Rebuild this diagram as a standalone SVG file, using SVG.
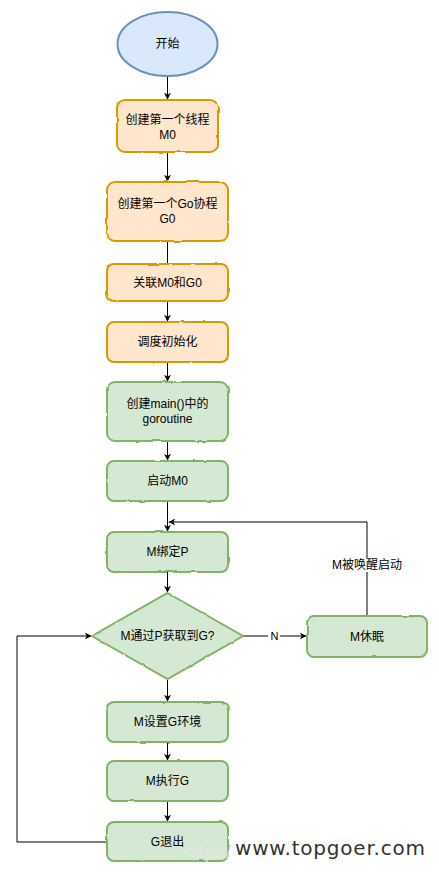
<svg xmlns="http://www.w3.org/2000/svg" width="439" height="872" viewBox="0 0 439 872">
<defs>
<filter id="rough" x="-5%" y="-5%" width="110%" height="110%">
<feTurbulence type="fractalNoise" baseFrequency="0.08" numOctaves="2" seed="3" result="n"/>
<feDisplacementMap in="SourceGraphic" in2="n" scale="2.2" xChannelSelector="R" yChannelSelector="G"/>
</filter>
<marker id="arr" viewBox="0 0 10 10" refX="9" refY="5" markerWidth="7" markerHeight="7" orient="auto" markerUnits="userSpaceOnUse">
<path d="M0,0 L10,5 L0,10 L3,5 Z" fill="#000"/>
</marker>
</defs>
<style>
.t{font-family:"Liberation Sans","Noto Sans CJK SC",sans-serif;font-size:12px;fill:#000;text-anchor:middle}
.blue{fill:#dae8fc;stroke:#6c8ebf;stroke-width:2}
.orange{fill:#ffe6cc;stroke:#d79b00;stroke-width:2}
.green{fill:#d5e8d4;stroke:#82b366;stroke-width:2}
.c{fill:none;stroke:#000;stroke-width:1}
</style>
<rect width="439" height="872" fill="#fff"/>
<g id="connectors">
<path class="c" d="M167.5,76 L167.5,99" marker-end="url(#arr)"/>
<path class="c" d="M167.5,152 L167.5,181" marker-end="url(#arr)"/>
<path class="c" d="M167.5,241 L167.5,264"/>
<path class="c" d="M167.5,301 L167.5,321" marker-end="url(#arr)"/>
<path class="c" d="M167.5,362 L167.5,381" marker-end="url(#arr)"/>
<path class="c" d="M167.5,441 L167.5,460" marker-end="url(#arr)"/>
<path class="c" d="M167.5,501 L167.5,531" marker-end="url(#arr)"/>
<path class="c" d="M167.5,572 L167.5,592" marker-end="url(#arr)"/>
<path class="c" d="M167.5,679 L167.5,701" marker-end="url(#arr)"/>
<path class="c" d="M167.5,742 L167.5,760" marker-end="url(#arr)"/>
<path class="c" d="M167.5,801 L167.5,821" marker-end="url(#arr)"/>
<path class="c" d="M243,636 L306,636" marker-end="url(#arr)"/>
<path class="c" d="M367,615 L367,522 L169,522" marker-end="url(#arr)"/>
<path class="c" d="M107,842 L17,842 L17,636 L91,636" marker-end="url(#arr)"/>
<rect x="268" y="629" width="12" height="14" fill="#fff"/>
<text class="t" x="274.5" y="640" font-size="11" style="font-size:11px">N</text>
<rect x="330" y="558" width="74" height="14" fill="#fff"/>
<text class="t" x="367" y="569">M被唤醒启动</text>
</g>
<g id="start">
<ellipse class="blue" cx="167.5" cy="44" rx="50" ry="32"/>
<text class="t" x="167.5" y="48">开始</text>
</g>
<g id="create-m0">
<rect class="orange" x="117" y="100" width="101" height="52" rx="8" filter="url(#rough)"/>
<text class="t" x="167.5" y="124">创建第一个线程</text>
<text class="t" x="167.5" y="139">M0</text>
</g>
<g id="create-g0">
<rect class="orange" x="107" y="182" width="121" height="59" rx="8" filter="url(#rough)"/>
<text class="t" x="167.5" y="208">创建第一个Go协程</text>
<text class="t" x="167.5" y="223">G0</text>
</g>
<g id="link">
<rect class="orange" x="107" y="264" width="121" height="37" rx="7" filter="url(#rough)"/>
<text class="t" x="167.5" y="287">关联M0和G0</text>
</g>
<g id="sched-init">
<rect class="orange" x="107" y="322" width="121" height="40" rx="7" filter="url(#rough)"/>
<text class="t" x="167.5" y="346">调度初始化</text>
</g>
<g id="create-main">
<rect class="green" x="107" y="382" width="121" height="59" rx="8" filter="url(#rough)"/>
<text class="t" x="167.5" y="408">创建main()中的</text>
<text class="t" x="167.5" y="423">goroutine</text>
</g>
<g id="start-m0">
<rect class="green" x="107" y="461" width="121" height="40" rx="7" filter="url(#rough)"/>
<text class="t" x="167.5" y="485">启动M0</text>
</g>
<g id="bind-p">
<rect class="green" x="107" y="532" width="121" height="40" rx="7" filter="url(#rough)"/>
<text class="t" x="167.5" y="556">M绑定P</text>
</g>
<g id="decision">
<path class="green" d="M167.5,593 L243,636 L167.5,679 L92,636 Z" filter="url(#rough)"/>
<text class="t" x="167.5" y="640">M通过P获取到G?</text>
</g>
<g id="sleep">
<rect class="green" x="307" y="616" width="120" height="41" rx="7" filter="url(#rough)"/>
<text class="t" x="367" y="641">M休眠</text>
</g>
<g id="set-env">
<rect class="green" x="107" y="702" width="121" height="40" rx="7" filter="url(#rough)"/>
<text class="t" x="167.5" y="726">M设置G环境</text>
</g>
<g id="exec-g">
<rect class="green" x="107" y="761" width="121" height="40" rx="7" filter="url(#rough)"/>
<text class="t" x="167.5" y="785">M执行G</text>
</g>
<g id="g-exit">
<rect class="green" x="107" y="822" width="121" height="39" rx="7" filter="url(#rough)"/>
<text class="t" x="167.5" y="846">G退出</text>
</g>
<g id="watermark">
<text x="185" y="858" font-family="DejaVu Sans, sans-serif" font-size="17" fill="#e6e6e6" textLength="46" lengthAdjust="spacingAndGlyphs">https:/</text>
<text x="235" y="855" font-family="DejaVu Sans, sans-serif" font-size="20" fill="#333" textLength="190" lengthAdjust="spacing">www.topgoer.com</text>
</g>
</svg>
